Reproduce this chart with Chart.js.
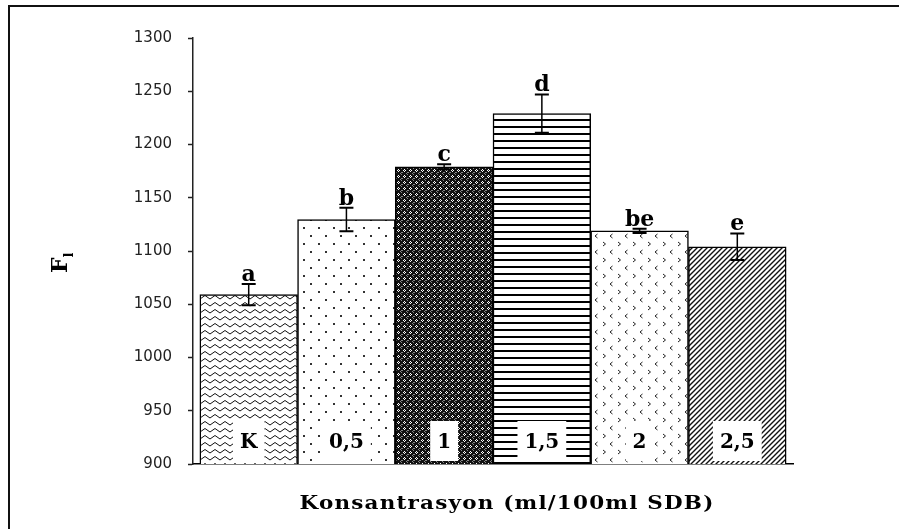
<!DOCTYPE html>
<html>
<head>
<meta charset="utf-8">
<script src="https://cdn.jsdelivr.net/npm/chart.js@4.4.1/dist/chart.umd.min.js"></script>
<style>
html, body { margin: 0; padding: 0; background: #fff; }
#wrap { position: relative; width: 899px; height: 529px; overflow: hidden; }
#frame { position: absolute; left: 8px; top: 5px; width: 1000px; height: 1000px;
         border-left: 2px solid #111; border-top: 2px solid #111; pointer-events: none; }
canvas { display: block; }
</style>
</head>
<body>
<div id="wrap"><canvas id="chart" width="899" height="529"></canvas><div id="frame"></div></div>
<script>
// data
var categories = ['K', '0,5', '1', '1,5', '2', '2,5'];
var values = [1059, 1129.5, 1179, 1229, 1119, 1104];
var errors = [10, 11, 2.5, 18, 2, 12.5];
var letters = ['a', 'b', 'c', 'd', 'be', 'e'];
var yMin = 900, yMax = 1300, yStep = 50;

// hatch fills, one per bar
function makePattern(kind) {
    var c = document.createElement('canvas');
    var g = c.getContext('2d');
    if (kind == 'wave') {
        c.width = 10; c.height = 7;
        g.fillStyle = '#fff'; g.fillRect(0, 0, 10, 7);
        g.strokeStyle = '#111'; g.lineWidth = 1;
        g.beginPath(); g.moveTo(0, 5); g.lineTo(5, 1.5); g.lineTo(10, 5); g.stroke();
    } else if (kind == 'dots') {
        c.width = 15; c.height = 16;
        g.fillStyle = '#fff'; g.fillRect(0, 0, 15, 16);
        g.fillStyle = '#333';
        g.fillRect(3, 3, 2, 2); g.fillRect(10, 11, 2, 2);
    } else if (kind == 'cross') {
        c.width = 6; c.height = 6;
        g.fillStyle = '#111'; g.fillRect(0, 0, 6, 6);
        g.fillStyle = '#fff';
        g.fillRect(2, 1, 1, 1); g.fillRect(1, 2, 1, 1); g.fillRect(3, 2, 1, 1); g.fillRect(2, 3, 1, 1);
        g.fillStyle = '#888';
        g.fillRect(5, 4, 1, 1); g.fillRect(4, 5, 1, 1); g.fillRect(0, 4, 1, 1); g.fillRect(5, 0, 1, 1);
    } else if (kind == 'hlines') {
        c.width = 4; c.height = 7;
        g.fillStyle = '#fff'; g.fillRect(0, 0, 4, 7);
        g.fillStyle = '#000'; g.fillRect(0, 0, 4, 2);
    } else if (kind == 'chevron') {
        c.width = 15; c.height = 16;
        g.fillStyle = '#fff'; g.fillRect(0, 0, 15, 16);
        g.strokeStyle = '#222'; g.lineWidth = 1;
        g.beginPath(); g.moveTo(3, 2); g.lineTo(5.5, 4); g.lineTo(3, 6); g.stroke();
        g.beginPath(); g.moveTo(12.5, 10); g.lineTo(10, 12); g.lineTo(12.5, 14); g.stroke();
    } else if (kind == 'diag') {
        c.width = 5; c.height = 5;
        g.fillStyle = '#fff'; g.fillRect(0, 0, 5, 5);
        g.strokeStyle = '#111'; g.lineWidth = 1.4;
        g.beginPath();
        g.moveTo(-1, 6); g.lineTo(6, -1);
        g.moveTo(-1, 1); g.lineTo(1, -1);
        g.moveTo(4, 6); g.lineTo(6, 4);
        g.stroke();
    }
    return g.createPattern(c, 'repeat');
}
var fills = ['wave', 'dots', 'cross', 'hlines', 'chevron', 'diag'].map(makePattern);

var serif = '"DejaVu Serif", "Liberation Serif", serif';

var annotate = {
    id: 'annotate',
    afterDatasetsDraw: function(chart) {
        var ctx = chart.ctx, xs = chart.scales.x, ys = chart.scales.y, area = chart.chartArea;
        ctx.save();
        for (var i = 0; i < values.length; i++) {
            var cx = xs.getPixelForValue(i);
            var top = ys.getPixelForValue(values[i] + errors[i]);
            var bot = ys.getPixelForValue(values[i] - errors[i]);
            // error bar
            ctx.strokeStyle = '#000';
            ctx.lineWidth = 1.5;
            ctx.beginPath();
            ctx.moveTo(cx, top); ctx.lineTo(cx, bot);
            ctx.stroke();
            ctx.lineWidth = 2;
            ctx.beginPath();
            ctx.moveTo(cx - 7, top); ctx.lineTo(cx + 7, top);
            ctx.moveTo(cx - 7, bot); ctx.lineTo(cx + 7, bot);
            ctx.stroke();
            // significance letters
            ctx.fillStyle = '#000';
            ctx.font = 'bold 22px ' + serif;
            ctx.textAlign = 'center';
            ctx.textBaseline = 'alphabetic';
            ctx.fillText(letters[i], cx, top - 3);
            // category label in a white box
            ctx.font = 'bold 20px ' + serif;
            var w = ctx.measureText(categories[i]).width;
            ctx.fillStyle = '#fff';
            ctx.fillRect(cx - w / 2 - 7, area.bottom - 43, w + 14, 40);
            ctx.fillStyle = '#000';
            ctx.fillText(categories[i], cx, area.bottom - 16);
        }
        // y title: F with subscript l, rotated
        ctx.save();
        ctx.translate(67, 273);
        ctx.rotate(-Math.PI / 2);
        ctx.textAlign = 'left';
        ctx.font = 'bold 22px ' + serif;
        ctx.fillText('F', 0, 0);
        var fw = ctx.measureText('F').width;
        ctx.font = 'bold 13px ' + serif;
        ctx.fillText('l', fw, 6);
        ctx.restore();
        // x title, stretched like the original
        ctx.save();
        ctx.font = 'bold 18px ' + serif;
        ctx.letterSpacing = '1px';
        var title = 'Konsantrasyon (ml/100ml SDB)';
        var tw = ctx.measureText(title).width;
        ctx.translate((area.left + area.right) / 2 + 14, 509);
        ctx.scale(415 / tw, 1);
        ctx.textAlign = 'center';
        ctx.fillText(title, 0, 0);
        ctx.restore();
        ctx.restore();
    }
};

var ctx = document.getElementById('chart');
var chart = new Chart(ctx, {
    type: 'bar',
    data: {
        datasets: [{
            data: values.map(function(v, i) { return { x: i, y: v }; }),
            backgroundColor: fills,
            borderColor: '#000',
            borderWidth: 1.5,
            borderSkipped: false,
            barPercentage: 1,
            categoryPercentage: 1
        }]
    },
    options: {
        responsive: false,
        animation: false,
        layout: { padding: { top: 38, right: 106, bottom: 65, left: 0 } },
        plugins: { legend: { display: false }, tooltip: { enabled: false } },
        scales: {
            x: {
                type: 'linear',
                offset: false,
                min: -0.57,
                max: 5.57,
                ticks: { display: false, stepSize: 1 },
                afterBuildTicks: function(s) {
                    s.ticks = s.ticks.filter(function(t) { return Number.isInteger(t.value); });
                },
                grid: { drawOnChartArea: false, drawTicks: false, offset: false },
                border: { display: true, color: '#000', width: 1.5 },
                afterFit: function(s) { s.height = 0; }
            },
            y: {
                min: yMin,
                max: yMax,
                ticks: {
                    stepSize: yStep,
                    color: '#222',
                    padding: 16,
                    font: { family: '"DejaVu Sans"', size: 15 },
                    callback: function(v) { return String(v); }
                },
                grid: { drawOnChartArea: false, tickLength: 5, color: '#222', tickWidth: 1.5 },
                border: { color: '#222', width: 1.5 },
                afterFit: function(s) { s.width = 193; }
            }
        }
    },
    plugins: [annotate]
});
</script>
</body>
</html>
